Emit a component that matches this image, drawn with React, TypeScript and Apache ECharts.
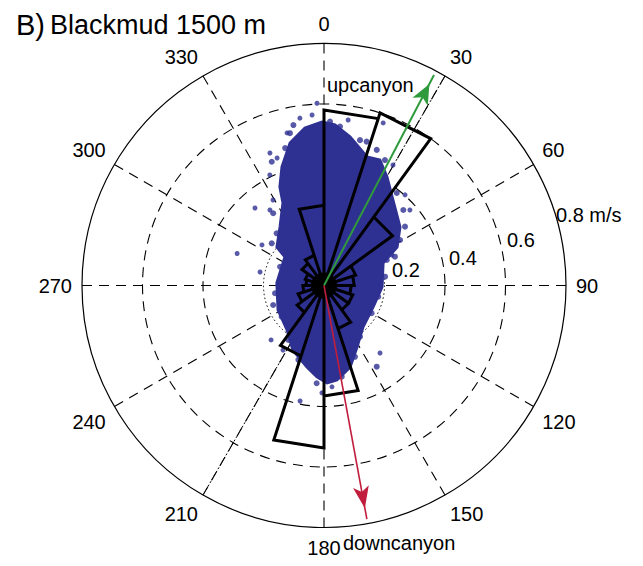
import React, { useEffect, useRef } from "react";
import * as echarts from "echarts";

// ---------- data ----------
const angleTicks = [0, 30, 60, 90, 120, 150, 180, 210, 240, 270, 300, 330];
const radiusTicks = [0.2, 0.4, 0.6, 0.8];
const radiusTickLabels = ["0.2", "0.4", "0.6", "0.8 m/s"];

// rose histogram (20 bins of 18 deg), bin start angle and length (in plot radius units)
const roseBinStart = [0, 18, 36, 54, 72, 90, 108, 126, 144, 162, 180, 198, 216, 234, 252, 270, 288, 306, 324, 342];
const roseBinLength = [0.58, 0.6, 0.28, 0.11, 0.1, 0.09, 0.1, 0.1, 0.15, 0.365, 0.537, 0.245, 0.11, 0.09, 0.07, 0.06, 0.065, 0.09, 0.105, 0.265];
const roseBinWidth = 18;
const roseHubRadius = 0.042; // solid black hub where the bin edges converge

// outline of the dense cloud of velocity samples (speed m/s, direction deg)
const cloudAngle = [3.9, 9.9, 18.5, 24.0, 30.1, 38.9, 52.4, 62.2, 69.1, 91.5, 113.7, 136.8, 151.8, 162.3, 172.2, 178.2, 184.4, 191.8, 205.7, 219.7, 242.0, 273.0, 306.2, 309.3, 323.1, 333.6, 335.9, 340.5, 346.6, 353.1, 359.3];
const cloudSpeed = [0.532, 0.499, 0.448, 0.454, 0.415, 0.363, 0.317, 0.273, 0.209, 0.192, 0.177, 0.188, 0.231, 0.283, 0.315, 0.322, 0.303, 0.275, 0.237, 0.191, 0.172, 0.156, 0.16, 0.201, 0.242, 0.305, 0.357, 0.416, 0.484, 0.524, 0.54];

// individual samples along the ragged edge of the cloud
const edgeAngle = [347.4, 344.2, 337.1, 349.2, 2.1, 5.75, 13.9, 16.5, 21.25, 25.9, 38.2, 46.4, 54.0, 59.1, 67.9, 324.9, 328.1, 317.8, 308.9, 342.4, 315.2, 293.1, 261, 249, 233.6, 213.2, 199, 184.3, 169, 156.5, 144.9, 120.2, 101.7, 81.8, 67.9, 147];
const edgeSpeed = [0.516, 0.472, 0.444, 0.54, 0.542, 0.528, 0.495, 0.496, 0.481, 0.461, 0.389, 0.362, 0.331, 0.293, 0.253, 0.292, 0.255, 0.233, 0.222, 0.373, 0.158, 0.158, 0.164, 0.18, 0.174, 0.215, 0.26, 0.324, 0.307, 0.257, 0.207, 0.182, 0.183, 0.204, 0.224, 0.32];

// scattered samples outside the dense cloud
const outlierAngle = [357.8, 356.0, 351.8, 346.4, 8.3, 20.0, 337.8, 339.8, 333.9, 329.2, 318.3, 324.4, 303.2, 29.8, 41.8, 48.7, 65.8, 281.9, 224.2, 212.4, 140.3, 175.5, 181.1, 191.7, 290.2];
const outlierSpeed = [0.603, 0.565, 0.559, 0.519, 0.553, 0.572, 0.473, 0.449, 0.407, 0.329, 0.343, 0.307, 0.245, 0.459, 0.402, 0.378, 0.246, 0.216, 0.251, 0.253, 0.29, 0.336, 0.355, 0.39, 0.306];

// canyon axis and arrows
const canyonAxisAngle = [30, 210];
const upcanyonArrow = { angle: 27.6, speed: 0.785 };
const downcanyonArrow = { angle: 169.6, speed: 0.785 };

// ---------- styling ----------
const FONT = "'Liberation Sans', Arial, Helvetica, sans-serif";
const BLUE = "#2e3192";
const GREEN = "#2f9a3c";
const RED = "#c01e3c";
const CENTER = [324, 285.5];
const R = 242;
const RMAX = 0.8;

function arrowSeries(a: { angle: number; speed: number }, color: string, width: number, size: [number, number]) {
  const th = (a.angle * Math.PI) / 180;
  const h = size[1] / 2;
  return {
    type: "line",
    coordinateSystem: "polar",
    polarIndex: 0,
    z: 6,
    silent: true,
    lineStyle: { color, width },
    data: [
      { value: [0, a.angle], symbol: "none" },
      {
        value: [a.speed, a.angle],
        symbol: "arrow",
        symbolSize: size,
        symbolRotate: -a.angle,
        symbolOffset: [-h * Math.sin(th), h * Math.cos(th)],
        itemStyle: { color },
      },
    ],
  };
}

function ringPolar(idx: number, radius: number, type: any, width: number) {
  return {
    polar: { center: CENTER, radius },
    angleAxis: {
      polarIndex: idx,
      type: "value",
      min: 0,
      max: 360,
      startAngle: 90,
      clockwise: true,
      axisLine: { lineStyle: { color: "#000", width, type } },
      axisTick: { show: false },
      axisLabel: { show: false },
      splitLine: { show: false },
    },
    radiusAxis: {
      polarIndex: idx,
      min: 0,
      max: 1,
      axisLine: { show: false },
      axisTick: { show: false },
      axisLabel: { show: false },
      splitLine: { show: false },
    },
  };
}

export default function App() {
  const ref = useRef<HTMLDivElement>(null);
  useEffect(() => {
    if (!ref.current) return;
    const chart = echarts.init(ref.current, undefined, { renderer: "svg" });

    const rings = [
      ringPolar(1, (R * radiusTicks[0]) / RMAX, [1.5, 2.5], 1),
      ringPolar(2, (R * radiusTicks[1]) / RMAX, [10, 7], 1.1),
      ringPolar(3, (R * radiusTicks[2]) / RMAX, [10, 7], 1.1),
    ];

    const roseData: number[][] = [];
    roseBinStart.forEach((a, i) => {
      const r = roseBinLength[i];
      roseData.push([0, a], [r, a], [r, a + roseBinWidth], [0, a + roseBinWidth]);
    });

    const cloudPts = cloudAngle.map((a, i) => [cloudSpeed[i], a]);
    const edgePts = edgeAngle.map((a, i) => [edgeSpeed[i], a]);
    const outliers = outlierAngle.map((a, i) => [outlierSpeed[i], a]);

    // radius label positions (pixel positions of the texts, as in the figure)
    const rLabelPos = [
      [392, 270],
      [449, 258],
      [507, 240],
      [556, 215],
    ];

    const option: any = {
      animation: false,
      backgroundColor: "#fff",
      textStyle: { fontFamily: FONT },
      title: {
        text: "{b|B)} {t|Blackmud 1500 m}",
        left: 11,
        top: 5,
        textStyle: {
          fontWeight: "normal",
          rich: {
            b: { fontSize: 29, fontFamily: FONT, color: "#000", fontWeight: "normal" },
            t: { fontSize: 27, fontFamily: FONT, color: "#000", fontWeight: "normal" },
          },
        },
      },
      polar: [{ center: CENTER, radius: R }, ...rings.map((r) => r.polar)],
      angleAxis: [
        {
          polarIndex: 0,
          type: "value",
          min: 0,
          max: 360,
          interval: 30,
          startAngle: 90,
          clockwise: true,
          axisLine: { lineStyle: { color: "#000", width: 1.2 } },
          axisTick: { show: false },
          axisLabel: {
            margin: 10,
            fontSize: 20,
            color: "#000",
            fontFamily: FONT,
            formatter: (v: number) => (angleTicks.indexOf(v) >= 0 ? String(v) : ""),
          },
          splitLine: { lineStyle: { color: "#000", width: 1.1, type: [10, 7] } },
        },
        ...rings.map((r) => r.angleAxis),
      ],
      radiusAxis: [
        {
          polarIndex: 0,
          min: 0,
          max: RMAX,
          interval: 0.2,
          axisLine: { show: false },
          axisTick: { show: false },
          axisLabel: { show: false },
          splitLine: { show: false },
        },
        ...rings.map((r) => r.radiusAxis),
      ],
      graphic: [
        ...radiusTickLabels.map((t, i) => ({
          type: "text",
          x: rLabelPos[i][0],
          y: rLabelPos[i][1],
          z: 10,
          style: { text: t, fontSize: 20, fontFamily: FONT, fill: "#000", verticalAlign: "middle" },
        })),
        {
          type: "text",
          x: 327,
          y: 85,
          z: 10,
          style: { text: "upcanyon", fontSize: 20, fontFamily: FONT, fill: "#000", verticalAlign: "middle" },
        },
        {
          type: "text",
          x: 343,
          y: 543,
          z: 10,
          style: { text: "downcanyon", fontSize: 20, fontFamily: FONT, fill: "#000", verticalAlign: "middle" },
        },
      ],
      series: [
        {
          type: "line",
          coordinateSystem: "polar",
          polarIndex: 0,
          z: 1,
          silent: true,
          symbol: "none",
          lineStyle: { color: "#000", width: 1, type: [2, 2] },
          data: canyonAxisAngle.map((a) => [RMAX, a]),
        },
        {
          type: "custom",
          coordinateSystem: "polar",
          polarIndex: 0,
          z: 2,
          silent: true,
          data: [0],
          renderItem: (_p: any, api: any) => ({
            type: "polygon",
            shape: { points: cloudPts.map((p) => api.coord(p)) },
            style: { fill: BLUE, stroke: BLUE, lineWidth: 3 },
          }),
        },
        {
          type: "scatter",
          coordinateSystem: "polar",
          polarIndex: 0,
          z: 3,
          silent: true,
          symbolSize: 6,
          itemStyle: { color: BLUE },
          data: edgePts,
        },
        {
          type: "scatter",
          coordinateSystem: "polar",
          polarIndex: 0,
          z: 3,
          silent: true,
          symbolSize: 5,
          itemStyle: { color: BLUE },
          data: outliers,
        },
        {
          type: "line",
          coordinateSystem: "polar",
          polarIndex: 0,
          z: 4,
          silent: true,
          symbol: "none",
          lineStyle: { color: "#000", width: 3, join: "miter" },
          data: roseData,
        },
        {
          type: "custom",
          coordinateSystem: "polar",
          polarIndex: 0,
          z: 5,
          silent: true,
          data: [0],
          renderItem: (_p: any, api: any) => {
            const hub = roseBinStart.map((a) => api.coord([roseHubRadius, a]));
            return {
              type: "polygon",
              shape: { points: hub },
              style: { fill: "#000", stroke: "#000", lineWidth: 1 },
            };
          },
        },
        arrowSeries(upcanyonArrow, GREEN, 2, [13, 20]),
        arrowSeries(downcanyonArrow, RED, 1.6, [12, 22]),
      ],
    };
    chart.setOption(option);
    return () => chart.dispose();
  }, []);

  return (
    <div
      ref={ref}
      style={{ position: "absolute", left: 0, top: 0, width: 643, height: 566 }}
    />
  );
}
